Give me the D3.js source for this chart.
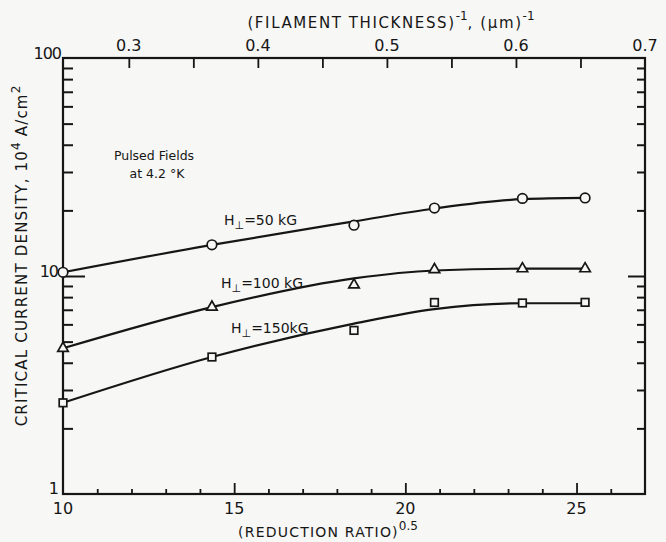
<!DOCTYPE html>
<html>
<head>
<meta charset="utf-8">
<script src="https://cdn.jsdelivr.net/npm/d3@7"></script>
<style>
  body { margin: 0; background: #f7f7f5; }
  svg text { font-family: "DejaVu Sans", sans-serif; fill: #161616; }
</style>
</head>
<body>
<div id="chart"></div>
<script>
// DATA
const ratio = [10, 14.35, 18.5, 20.85, 23.42, 25.25];   // (reduction ratio)^0.5

const jc50  = [10.4, 13.9, 17.1, 20.5, 22.7, 22.8];
const jc100 = [4.66, 7.2, 9.1, 10.7, 10.8, 10.8];
const jc150 = [2.62, 4.25, 5.63, 7.56, 7.52, 7.57];

// hand-drawn smooth curves (not exactly through the points)
const fit50  = [10.4, 13.9, 17.8, 20.4, 22.5, 22.8];
const fit100 = [4.66, 7.2, 9.75, 10.6, 10.8, 10.8];
const fit150 = [2.62, 4.25, 6.05, 7.05, 7.5, 7.5];

const bottomTicks = [10, 15, 20, 25];
const topTicks = [0.3, 0.4, 0.5, 0.6, 0.7];
const leftTicks = [1, 10, 100];

// SVG
const width = 666, height = 542;
const margin = {top: 58, left: 63, right: 21, bottom: 48};

const svg = d3.select("#chart")
    .append("svg")
    .attr("width", width)
    .attr("height", height);

// SCALES
const xScale = d3.scaleLinear()
    .domain([10, 27])
    .range([margin.left, width - margin.right]);

const xTop = d3.scaleLinear()
    .domain([0.249, 0.7])
    .range([margin.left, width - margin.right]);

const yScale = d3.scaleLog()
    .domain([1, 100])
    .range([height - margin.bottom, margin.top]);

// AXES (ticks point inward, frame drawn separately)
const minorY = yScale.ticks(20);

svg.append("g")
    .attr("transform", `translate(${margin.left},0)`)
    .call(d3.axisRight(yScale).tickValues(minorY.filter(d => d != 1 && d != 100))
        .tickSize(10).tickFormat(""))
    .call(g => g.select(".domain").remove())
    .call(g => g.selectAll(".tick line")
        .attr("x2", d => d == 10 ? 22 : 10)
        .attr("stroke", "#161616").attr("stroke-width", 2));

svg.append("g")
    .attr("transform", `translate(${width - margin.right},0)`)
    .call(d3.axisLeft(yScale).tickValues(minorY.filter(d => d != 1 && d != 100))
        .tickSize(8).tickFormat(""))
    .call(g => g.select(".domain").remove())
    .call(g => g.selectAll(".tick line")
        .attr("x2", d => d == 10 ? -17 : -8)
        .attr("stroke", "#161616").attr("stroke-width", 2));

svg.append("g")
    .attr("transform", `translate(0,${height - margin.bottom})`)
    .call(d3.axisTop(xScale).tickValues(d3.range(11, 27)).tickFormat(""))
    .call(g => g.select(".domain").remove())
    .call(g => g.selectAll(".tick line")
        .attr("y2", d => d % 5 == 0 ? -11 : -5)
        .attr("stroke", "#161616").attr("stroke-width", 1.8));

svg.append("g")
    .attr("transform", `translate(0,${margin.top})`)
    .call(d3.axisBottom(xTop).tickValues(d3.range(0.3, 0.69, 0.05)).tickFormat(""))
    .call(g => g.select(".domain").remove())
    .call(g => g.selectAll(".tick line")
        .attr("y2", 10)
        .attr("stroke", "#161616").attr("stroke-width", 1.8));

// frame
svg.append("rect")
    .attr("x", margin.left)
    .attr("y", margin.top)
    .attr("width", width - margin.left - margin.right)
    .attr("height", height - margin.top - margin.bottom)
    .attr("fill", "none")
    .attr("stroke", "#161616")
    .attr("stroke-width", 2.2);

// tick labels
svg.selectAll(".blab")
    .data(bottomTicks)
    .enter()
    .append("text")
        .attr("x", d => xScale(d))
        .attr("y", height - margin.bottom + 20)
        .attr("text-anchor", "middle")
        .attr("font-size", 16)
        .text(d => d);

svg.selectAll(".tlab")
    .data(topTicks)
    .enter()
    .append("text")
        .attr("x", d => xTop(d))
        .attr("y", margin.top - 7)
        .attr("text-anchor", "middle")
        .attr("font-size", 16)
        .text(d => d.toFixed(1));

svg.selectAll(".llab")
    .data(leftTicks)
    .enter()
    .append("text")
        .attr("x", d => d == 100 ? margin.left - 2 : margin.left - 5)
        .attr("y", d => yScale(d) + (d == 1 ? 0 : 1))
        .attr("text-anchor", "end")
        .attr("font-size", 16)
        .attr("letter-spacing", -1)
        .text(d => d);

// AXIS TITLES
const xt = svg.append("text")
    .attr("x", 328)
    .attr("y", 537)
    .attr("text-anchor", "middle")
    .attr("font-size", 14)
    .attr("letter-spacing", 1.2);
xt.append("tspan").text("(REDUCTION RATIO)");
xt.append("tspan").attr("dy", -7).attr("font-size", 12).attr("letter-spacing", 0).text("0.5");

const tt = svg.append("text")
    .attr("x", 391)
    .attr("y", 28)
    .attr("text-anchor", "middle")
    .attr("font-size", 15)
    .attr("letter-spacing", 1.6);
tt.append("tspan").text("(FILAMENT THICKNESS)");
tt.append("tspan").attr("dy", -8).attr("font-size", 12).attr("letter-spacing", 0).text("-1");
tt.append("tspan").attr("dy", 8).text(", (μm)");
tt.append("tspan").attr("dy", -8).attr("font-size", 12).attr("letter-spacing", 0).text("-1");

const yt = svg.append("text")
    .attr("transform", "translate(27,256) rotate(-90)")
    .attr("text-anchor", "middle")
    .attr("font-size", 15)
    .attr("letter-spacing", 1.2);
yt.append("tspan").text("CRITICAL CURRENT DENSITY, 10");
yt.append("tspan").attr("dy", -7).attr("font-size", 12).attr("letter-spacing", 0).text("4");
yt.append("tspan").attr("dy", 7).text(" A/cm");
yt.append("tspan").attr("dy", -7).attr("font-size", 12).attr("letter-spacing", 0).text("2");

// note
svg.append("text").attr("x", 154).attr("y", 160).attr("text-anchor", "middle")
    .attr("font-size", 12.5).text("Pulsed Fields");
svg.append("text").attr("x", 157).attr("y", 178).attr("text-anchor", "middle")
    .attr("font-size", 12.5).text("at 4.2 °K");

// CURVES
const line = d3.line()
    .x(d => xScale(d[0]))
    .y(d => yScale(d[1]))
    .curve(d3.curveMonotoneX);

[fit50, fit100, fit150].forEach(function(f) {
    svg.append("path")
        .datum(ratio.map((r, i) => [r, f[i]]))
        .attr("d", line)
        .attr("fill", "none")
        .attr("stroke", "#161616")
        .attr("stroke-width", 2.2);
});

// MARKERS
svg.selectAll(".c50")
    .data(ratio.map((r, i) => [r, jc50[i]]))
    .enter()
    .append("circle")
        .attr("cx", d => xScale(d[0]))
        .attr("cy", d => yScale(d[1]))
        .attr("r", 4.8)
        .attr("fill", "#f7f7f5")
        .attr("stroke", "#161616")
        .attr("stroke-width", 1.7);

svg.selectAll(".t100")
    .data(ratio.map((r, i) => [r, jc100[i]]))
    .enter()
    .append("path")
        .attr("d", d3.symbol().type(d3.symbolTriangle).size(48))
        .attr("transform", d => `translate(${xScale(d[0])},${yScale(d[1])})`)
        .attr("fill", "#f7f7f5")
        .attr("stroke", "#161616")
        .attr("stroke-width", 1.7);

svg.selectAll(".s150")
    .data(ratio.map((r, i) => [r, jc150[i]]))
    .enter()
    .append("rect")
        .attr("x", d => xScale(d[0]) - 3.8)
        .attr("y", d => yScale(d[1]) - 3.8)
        .attr("width", 7.6)
        .attr("height", 7.6)
        .attr("fill", "#f7f7f5")
        .attr("stroke", "#161616")
        .attr("stroke-width", 1.7);

// CURVE LABELS  H⊥ = ...
const curveLabels = [
    {x: 224, y: 225, v: "=50 kG"},
    {x: 221, y: 288, v: "=100 kG"},
    {x: 231, y: 333, v: "=150kG"}
];
curveLabels.forEach(function(c) {
    const t = svg.append("text")
        .attr("x", c.x)
        .attr("y", c.y)
        .attr("font-size", 14);
    t.append("tspan").text("H");
    t.append("tspan").attr("dy", 4).attr("font-size", 11).text("⊥");
    t.append("tspan").attr("dy", -4).text(c.v);
});
</script>
</body>
</html>
